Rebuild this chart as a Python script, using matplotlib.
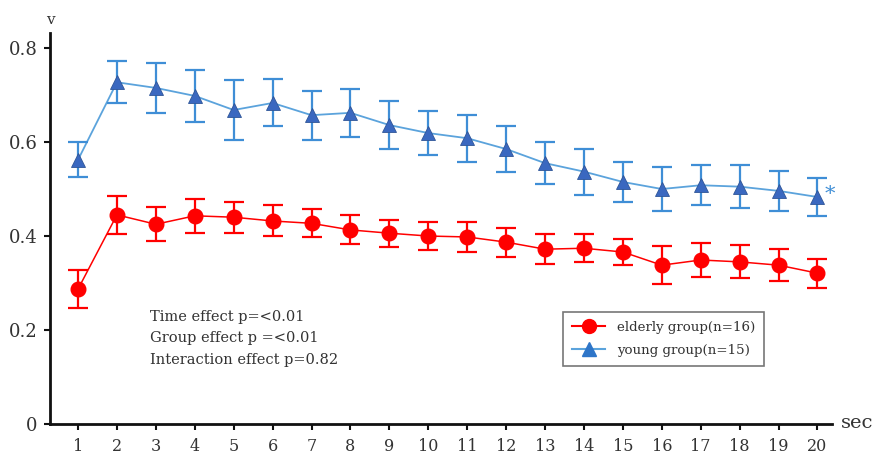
import matplotlib
matplotlib.use("Agg")
import matplotlib.pyplot as plt
import numpy as np

seconds = list(range(1, 21))
elderly_mean = [0.287, 0.445, 0.425, 0.443, 0.440, 0.432, 0.427, 0.413, 0.406, 0.400,
                0.398, 0.387, 0.372, 0.374, 0.366, 0.338, 0.349, 0.345, 0.338, 0.321]
elderly_err = [0.040, 0.040, 0.036, 0.036, 0.033, 0.033, 0.030, 0.031, 0.029, 0.030,
               0.032, 0.031, 0.032, 0.030, 0.028, 0.040, 0.036, 0.035, 0.034, 0.031]
young_mean = [0.562, 0.727, 0.715, 0.698, 0.668, 0.683, 0.657, 0.662, 0.636, 0.619,
              0.608, 0.585, 0.555, 0.537, 0.515, 0.500, 0.508, 0.505, 0.496, 0.483]
young_err = [0.037, 0.045, 0.054, 0.055, 0.064, 0.050, 0.052, 0.051, 0.051, 0.047,
             0.050, 0.049, 0.045, 0.049, 0.042, 0.046, 0.043, 0.045, 0.042, 0.040]
y_ticks = [0, 0.2, 0.4, 0.6, 0.8]
y_tick_labels = ["0", "0.2", "0.4", "0.6", "0.8"]
stats_text = ["Time effect p=<0.01", "Group effect p =<0.01", "Interaction effect p=0.82"]

plt.rcParams['font.family'] = ['DejaVu Serif']

fig = plt.figure(figsize=(8.77, 4.57), dpi=100)
ax = fig.add_axes([0.057, 0.072, 0.892, 0.856])

red = "#FF0000"
blue_line = "#5BA3DC"
blue_err = "#3F8ED6"
blue_marker = "#3A68C0"

ax.plot(seconds, elderly_mean, color=red, lw=1.1, zorder=2)
ax.errorbar(seconds, elderly_mean, yerr=elderly_err, fmt="none", ecolor=red,
            elinewidth=1.6, capsize=7.5, capthick=1.6, zorder=3)
ax.plot(seconds, elderly_mean, linestyle="none", marker="o", ms=10.5,
        color=red, zorder=4)

ax.plot(seconds, young_mean, color=blue_line, lw=1.3, zorder=2)
ax.errorbar(seconds, young_mean, yerr=young_err, fmt="none", ecolor=blue_err,
            elinewidth=1.6, capsize=7.5, capthick=1.6, zorder=3)
ax.plot(seconds, young_mean, linestyle="none", marker="^", ms=10.5,
        color=blue_marker, markeredgecolor="#2F5597", markeredgewidth=0.6, zorder=4)

# legend proxies
h1, = ax.plot([], [], color=red, lw=1.5, marker="o", ms=10)
h2, = ax.plot([], [], color=blue_line, lw=1.5, marker="^", ms=10,
              markerfacecolor="#2E75C8", markeredgecolor="#2E75C8")
leg = ax.legend([h1, h2], ["elderly group(n=16)", "young group(n=15)"],
                loc="upper left", bbox_to_anchor=(0.656, 0.286),
                frameon=True, fancybox=False, fontsize=9.6,
                handlelength=2.5, borderpad=0.65, labelspacing=0.75,
                handletextpad=0.9, borderaxespad=0)
leg.get_frame().set_edgecolor("#555555")
leg.get_frame().set_linewidth(1.2)
for t in leg.get_texts():
    t.set_color("#333333")

ax.set_xlim(0.28, 20.38)
ax.set_ylim(0, 0.832)
ax.set_xticks(seconds)
ax.set_xticklabels([str(s) for s in seconds])
ax.set_yticks(y_ticks)
ax.set_yticklabels(y_tick_labels)

ax.spines["top"].set_visible(False)
ax.spines["right"].set_visible(False)
for s in ("left", "bottom"):
    ax.spines[s].set_linewidth(2.0)
    ax.spines[s].set_color("#111111")

ax.tick_params(axis="x", direction="out", length=4, width=1.5, labelsize=11.5,
               pad=6, colors="#111111", labelcolor="#333333")
ax.tick_params(axis="y", direction="out", length=4, width=1.5, labelsize=13,
               pad=5, colors="#111111", labelcolor="#333333")

for i, line in enumerate(stats_text):
    ax.text(0.128, 0.274 - i * 0.055, line, transform=ax.transAxes,
            fontsize=10.5, color="#333333", va="center", ha="left")

fig.text(50 / 877, 1 - 20 / 457, "v", fontsize=11, color="#333333",
         ha="center", va="center")
fig.text(857 / 877, 1 - 423 / 457, "sec", fontsize=14, color="#333333",
         ha="center", va="center")
ax.annotate("*", xy=(seconds[-1], young_mean[-1]), xytext=(9, 2),
            textcoords="offset points", fontsize=15, color=blue_err,
            ha="center", va="center")

fig.savefig("out.png", dpi=100)
